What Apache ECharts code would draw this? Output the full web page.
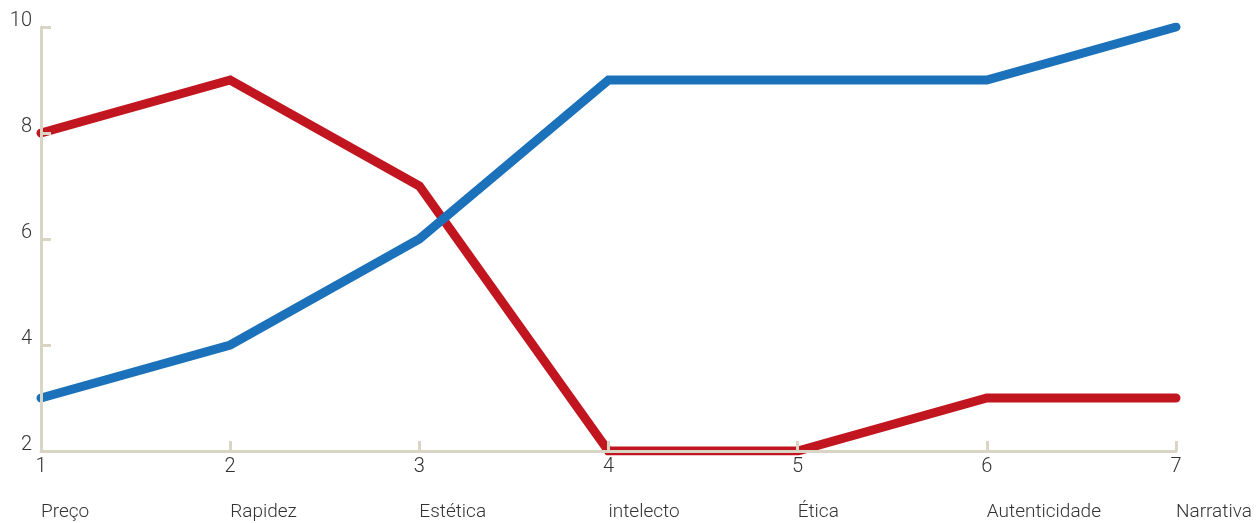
<!DOCTYPE html>
<html>
<head>
<meta charset="utf-8">
<script src="https://cdn.jsdelivr.net/npm/echarts@6/dist/echarts.min.js"></script>
<style>
html,body{margin:0;padding:0;background:#fff;}
#chart{width:1256px;height:523px;}
</style>
</head>
<body>
<div id="chart"></div>
<script>
const positions = [1, 2, 3, 4, 5, 6, 7];
const categories = ['Preço', 'Rapidez', 'Estética', 'intelecto', 'Ética', 'Autenticidade', 'Narrativa'];
const redValues = [8, 9, 7, 2, 2, 3, 3];
const blueValues = [3, 4, 6, 9, 9, 9, 10];
const yTicks = [2, 4, 6, 8, 10];

const axisColor = '#D9D5C5';
const textColor = '#333333';
const font = 'Roboto';

const chart = echarts.init(document.getElementById('chart'), null, {renderer: 'canvas'});
const gridBox = {left: 41, right: 80, top: 27, bottom: 72};
chart.setOption({
  backgroundColor: '#ffffff',
  animation: false,
  grid: [
    Object.assign({containLabel: false}, gridBox),
    Object.assign({containLabel: false}, gridBox)
  ],
  xAxis: [
    {
      type: 'value', gridIndex: 0, min: 1, max: 7, interval: 1, z: 5,
      axisLine: {show: true, lineStyle: {color: axisColor, width: 3}},
      axisTick: {show: true, inside: true, length: 10, lineStyle: {color: axisColor, width: 3}},
      splitLine: {show: false},
      axisLabel: {show: true, margin: 6, color: textColor, fontFamily: font, fontSize: 20, fontWeight: 300,
        lineHeight: 20, formatter: v => String(v)}
    },
    {
      type: 'value', gridIndex: 1, min: 1, max: 7, interval: 1, z: 5,
      axisLine: {show: false}, axisTick: {show: false}, splitLine: {show: false},
      axisLabel: {show: true, margin: 52, align: 'left', color: textColor, fontFamily: font, fontSize: 19, fontWeight: 300,
        formatter: v => categories[positions.indexOf(v)] || ''}
    }
  ],
  yAxis: [
    {
      type: 'value', gridIndex: 0, min: yTicks[0], max: yTicks[yTicks.length - 1], interval: 2, z: 5,
      axisLine: {show: true, lineStyle: {color: axisColor, width: 3}},
      axisTick: {show: true, inside: true, length: 10, lineStyle: {color: axisColor, width: 3}},
      splitLine: {show: false},
      axisLabel: {show: true, margin: 9, color: textColor, fontFamily: font, fontSize: 20, fontWeight: 300,
        verticalAlign: 'bottom', lineHeight: 12}
    },
    {
      type: 'value', gridIndex: 1, min: 2, max: 10, show: false
    }
  ],
  series: [
    {
      type: 'line', xAxisIndex: 0, yAxisIndex: 0, z: 2,
      data: positions.map((p, i) => [p, redValues[i]]),
      showSymbol: false, symbol: 'none',
      lineStyle: {color: '#C1161F', width: 9, cap: 'round', join: 'miter'}
    },
    {
      type: 'line', xAxisIndex: 0, yAxisIndex: 0, z: 3,
      data: positions.map((p, i) => [p, blueValues[i]]),
      showSymbol: false, symbol: 'none',
      lineStyle: {color: '#1B72BA', width: 9, cap: 'round', join: 'miter'}
    }
  ]
});
</script>
</body>
</html>
